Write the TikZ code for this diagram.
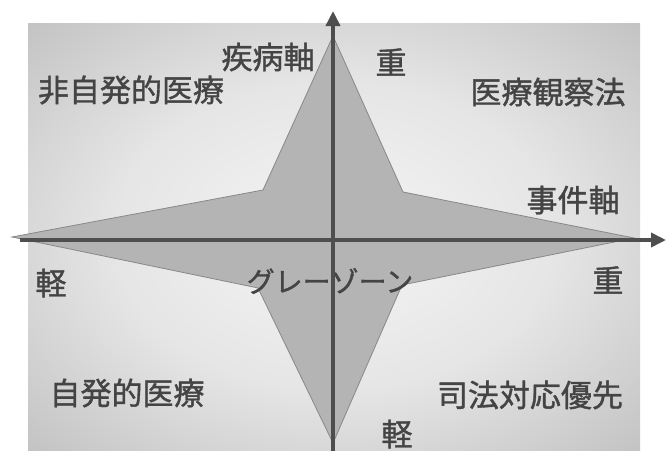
\documentclass[tikz,border=0pt]{standalone}
\usepackage{fontspec}
\newfontfamily\cjk{Noto Sans CJK JP}[FakeBold=1.2]
\usetikzlibrary{arrows.meta}
\definecolor{txt}{HTML}{444444}
\definecolor{axc}{HTML}{4E4E4E}
\definecolor{starfill}{HTML}{B4B4B4}
\definecolor{staredge}{HTML}{888888}
\pgfdeclareradialshading{quadshade}{\pgfpoint{0bp}{0bp}}{color(0bp)=(black!4); color(18bp)=(black!10); color(40bp)=(black!27); color(55bp)=(black!40); color(71bp)=(black!56)}
\tikzset{
  lbl/.style={font=\cjk\fontsize{31}{31}\selectfont, text=txt, inner sep=0pt, anchor=center},
  axis/.style={draw=axc, line width=3.6pt, -{Triangle[length=15pt,width=14pt]}},
}
\begin{document}
\begin{tikzpicture}[x=1pt,y=-1pt]
\useasboundingbox (0,0) rectangle (671,450);
\fill[white] (0,0) rectangle (671,450);
\shade[shading=quadshade] (28,23) rectangle (640,450);
% star
\filldraw[fill=starfill, draw=staredge, line width=0.8pt]
  (333,36) -- (403,192) -- (634,238) -- (402,285) -- (333,443)
  -- (258,288) -- (12,237) -- (263,190) -- cycle;
% labels
\node[lbl] (shippei) at (268,57) {疾病軸};
\node[lbl] (hijihatsu) at (131,90) {非自発的医療};
\node[lbl] (juu1) at (391,62) {重};
\node[lbl] (kansatsu) at (548,92) {医療観察法};
\node[lbl] (jiken) at (573,200) {事件軸};
\node[lbl] (kei1) at (51,283) {軽};
\node[lbl, font=\cjk\fontsize{28}{28}\selectfont] (gray) at (330,281) {グレーゾーン};
\node[lbl] (jihatsu) at (127,393) {自発的医療};
\node[lbl] (juu2) at (608,280) {重};
\node[lbl] (shihou) at (530,395) {司法対応優先};
\node[lbl] (kei2) at (397,434) {軽};
% axes
\coordinate (xs) at (20,240);
\coordinate (xe) at (666,240);
\coordinate (ys) at (333,452);
\coordinate (ye) at (333,11);
\draw[axis] (xs) -- (xe);
\draw[axis] (ys) -- (ye);
\end{tikzpicture}
\end{document}
